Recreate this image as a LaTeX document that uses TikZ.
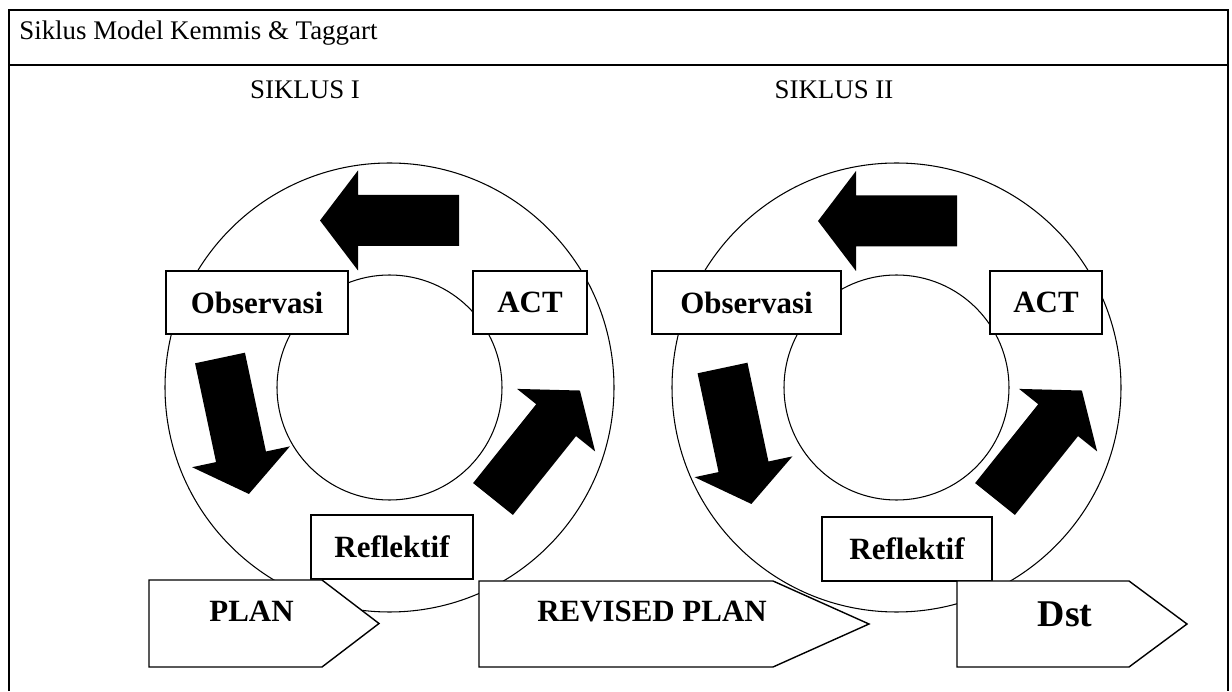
\documentclass[tikz,border=0pt]{standalone}
\usepackage{fontspec}
\setmainfont{Liberation Serif}
\begin{document}
\begin{tikzpicture}[
    frame/.style={line width=1.1pt},
    ring/.style={line width=0.6pt},
    labelbox/.style={draw, fill=white, line width=0.8pt, inner sep=0pt,
      minimum height=1.26cm, font=\fontsize{17.6}{20}\selectfont\bfseries},
    plantext/.style={anchor=base, inner sep=0pt,
      font=\fontsize{17.6}{20}\selectfont\bfseries},
    heading/.style={anchor=base, inner sep=0pt, font=\fontsize{15.3}{18}\selectfont},
    blockarrow/.pic={\fill (0,-0.51) -- (2.02,-0.51) -- (2.02,-1.0) -- (2.78,0)
      -- (2.02,1.0) -- (2.02,0.51) -- (0,0.51) -- cycle;}
  ]
  \useasboundingbox (0,0) rectangle (24.64,13.82);

  % table frame, open at the bottom
  \draw[frame] (0.18,0) -- (0.18,13.62) -- (24.56,13.62) -- (24.56,0);
  \draw[frame] (0.18,12.52) -- (24.56,12.52);
  \node[heading, anchor=base west] (judul) at (0.38,13.02) {Siklus Model Kemmis \& Taggart};
  \node[heading] (siklus1) at (6.10,11.84) {SIKLUS I};
  \node[heading] (siklus2) at (16.68,11.84) {SIKLUS II};

  % first cycle
  \coordinate (c1) at (7.79,6.07);
  \draw[ring] (c1) circle (4.49);
  \draw[ring] (c1) circle (2.25);
  \pic[rotate=180] at (9.18,9.41) {blockarrow};
  \pic[rotate=-78] at (4.40,6.66) {blockarrow};
  \pic[rotate=51.3] at (9.86,3.84) {blockarrow};
  \node[labelbox, minimum width=3.64cm] (obs1) at (5.14,7.77) {Observasi};
  \node[labelbox, minimum width=2.28cm] (act1) at (10.60,7.77) {ACT};
  \node[labelbox, minimum width=3.24cm, minimum height=1.28cm] (ref1) at (7.84,2.88) {Reflektif};

  % plan arrows
  \draw[fill=white, line width=0.8pt] (2.98,2.22) -- (6.44,2.22) -- (7.58,1.35)
    -- (6.44,0.48) -- (2.98,0.48) -- cycle;
  \node[plantext] (plan) at (5.03,1.38) {PLAN};
  \draw[fill=white, line width=0.8pt] (9.58,2.20) -- (15.46,2.20) -- (17.38,1.34)
    -- (15.46,0.48) -- (9.58,0.48) -- cycle;
  \node[plantext] (revplan) at (13.04,1.40) {REVISED PLAN};

  % second cycle
  \coordinate (c2) at (17.93,6.07);
  \draw[ring] (c2) circle (4.49);
  \draw[ring] (c2) circle (2.25);
  \pic[rotate=180] at (19.14,9.40) {blockarrow};
  \pic[rotate=-78] at (14.45,6.46) {blockarrow};
  \pic[rotate=51.3] at (19.90,3.84) {blockarrow};
  \node[labelbox, minimum width=3.78cm] (obs2) at (14.93,7.77) {Observasi};
  \node[labelbox, minimum width=2.24cm] (act2) at (20.92,7.77) {ACT};
  \node[labelbox, minimum width=3.40cm, minimum height=1.28cm] (ref2) at (18.14,2.84) {Reflektif};

  \draw[fill=white, line width=0.8pt] (19.14,2.20) -- (22.58,2.20) -- (23.74,1.34)
    -- (22.58,0.48) -- (19.14,0.48) -- cycle;
  \node[plantext, font=\fontsize{21.5}{24}\selectfont\bfseries] (dst) at (21.30,1.28) {Dst};
\end{tikzpicture}
\end{document}
